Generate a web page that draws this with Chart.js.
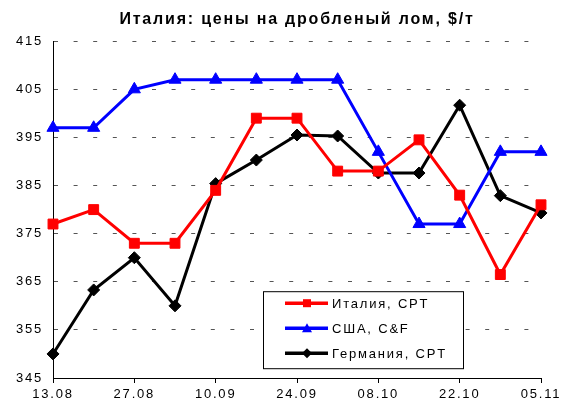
<!DOCTYPE html>
<html>
<head>
<meta charset="utf-8">
<script src="https://cdn.jsdelivr.net/npm/chart.js@4/dist/chart.umd.min.js"></script>
<style>
  html, body { margin: 0; padding: 0; background: #fff; }
  #wrap { width: 562px; height: 406px; }
</style>
</head>
<body>
<div id="wrap"><canvas id="myChart" width="562" height="406"></canvas></div>
<script>
// даты (неделя)
const dates = ['13.08', '20.08', '27.08', '03.09', '10.09', '17.09', '24.09',
               '01.10', '08.10', '15.10', '22.10', '29.10', '05.11'];
const italy   = [377, 380, 373, 373, 384, 399, 399, 388, 388, 394.5, 383, 366.5, 381];
const usa     = [397, 397, 405, 407, 407, 407, 407, 407, 392, 377, 377, 392, 392];
const germany = [350, 363.3, 370, 360, 385.4, 390.3, 395.5, 395.3, 387.6, 387.6, 401.7, 382.9, 379.3];
const yTicks  = [345, 355, 365, 375, 385, 395, 405, 415];

const FONT = 'Arial, "Liberation Sans", sans-serif';

// разрядка текста как в Excel
const spacing = {
    id: 'spacing',
    beforeLayout(chart) { chart.ctx.letterSpacing = '1.8px'; },
    beforeDraw(chart) { chart.ctx.letterSpacing = '1.8px'; }
};

// легенда в рамке внутри графика
const boxLegend = {
    id: 'boxLegend',
    afterDraw(chart) {
        const ctx = chart.ctx;
        const a = chart.chartArea;
        const x0 = a.left + 210, y0 = a.top + 250, w = 200, h = 77;
        ctx.save();
        ctx.fillStyle = '#fff';
        ctx.fillRect(x0, y0, w, h);
        ctx.strokeStyle = '#000';
        ctx.lineWidth = 1;
        ctx.strokeRect(x0 + 0.5, y0 + 0.5, w, h);
        chart.data.datasets.forEach((ds, i) => {
            const y = y0 + 12 + i * 25;
            ctx.strokeStyle = ds.borderColor;
            ctx.lineWidth = 3.5;
            ctx.beginPath();
            ctx.moveTo(x0 + 22, y);
            ctx.lineTo(x0 + 65, y);
            ctx.stroke();
            ctx.fillStyle = ds.borderColor;
            const cx = x0 + 44;
            ctx.beginPath();
            if (ds.pointStyle === 'rect') {
                ctx.rect(cx - 4, y - 4, 8, 8);
            } else if (ds.pointStyle === 'triangle') {
                ctx.moveTo(cx, y - 5); ctx.lineTo(cx + 5, y + 4); ctx.lineTo(cx - 5, y + 4);
            } else {
                ctx.moveTo(cx, y - 5); ctx.lineTo(cx + 5, y); ctx.lineTo(cx, y + 5); ctx.lineTo(cx - 5, y);
            }
            ctx.closePath();
            ctx.fill();
            ctx.fillStyle = '#000';
            ctx.font = '13px ' + FONT;
            ctx.textBaseline = 'middle';
            ctx.fillText(ds.label, x0 + 69, y + 1);
        });
        ctx.restore();
    }
};

window.onload = function () {
    const ctx = document.getElementById('myChart').getContext('2d');
    new Chart(ctx, {
        type: 'line',
        data: {
            labels: dates,
            datasets: [{
                label: 'Италия, CPT',
                data: italy,
                borderColor: '#ff0000',
                backgroundColor: '#ff0000',
                borderWidth: 3,
                pointStyle: 'rect',
                pointRadius: 7,
                pointBorderWidth: 1
            }, {
                label: 'США, C&F',
                data: usa,
                borderColor: '#0000ff',
                backgroundColor: '#0000ff',
                borderWidth: 3,
                pointStyle: 'triangle',
                pointRadius: 7,
                pointBorderWidth: 1
            }, {
                label: 'Германия, CPT',
                data: germany,
                borderColor: '#000000',
                backgroundColor: '#000000',
                borderWidth: 3,
                pointStyle: 'rectRot',
                pointRadius: 6,
                pointBorderWidth: 1
            }]
        },
        options: {
            responsive: false,
            animation: false,
            events: [],
            layout: { padding: { left: 0, right: 21, top: 0, bottom: 0 } },
            elements: { line: { tension: 0 } },
            datasets: { line: { clip: false } },
            plugins: {
                legend: { display: false },
                tooltip: { enabled: false },
                title: {
                    display: true,
                    fullSize: false,
                    text: 'Италия: цены на дробленый лом, $/т',
                    color: '#000',
                    font: { family: FONT, size: 16, weight: 'bold' },
                    padding: { top: 10, bottom: 12 }
                }
            },
            scales: {
                x: {
                    grid: {
                        drawOnChartArea: false,
                        drawTicks: true,
                        tickLength: 5,
                        tickColor: (c) => (c.index % 2 === 0 ? '#000' : 'rgba(0,0,0,0)')
                    },
                    border: { display: true, color: '#000', width: 1 },
                    ticks: {
                        autoSkip: false,
                        maxRotation: 0,
                        padding: 4,
                        color: '#000',
                        font: { family: FONT, size: 13 },
                        callback: (v, i) => (i % 2 === 0 ? dates[i] : '')
                    },
                    afterFit: (s) => { s.height = 28; s.paddingLeft = 0; s.paddingRight = 0; }
                },
                y: {
                    min: yTicks[0],
                    max: yTicks[yTicks.length - 1],
                    afterBuildTicks: (s) => { s.ticks = yTicks.map(v => ({ value: v })); },
                    grid: {
                        color: '#555',
                        lineWidth: 1,
                        drawTicks: false
                    },
                    border: { display: true, color: '#000', width: 1, dash: [4, 15.6] },
                    ticks: {
                        padding: 10,
                        color: '#000',
                        font: { family: FONT, size: 13 }
                    },
                    afterFit: (s) => { s.width = 53; s.paddingTop = 0; s.paddingBottom = 0; }
                }
            }
        },
        plugins: [spacing, boxLegend]
    });
};
</script>
</body>
</html>
